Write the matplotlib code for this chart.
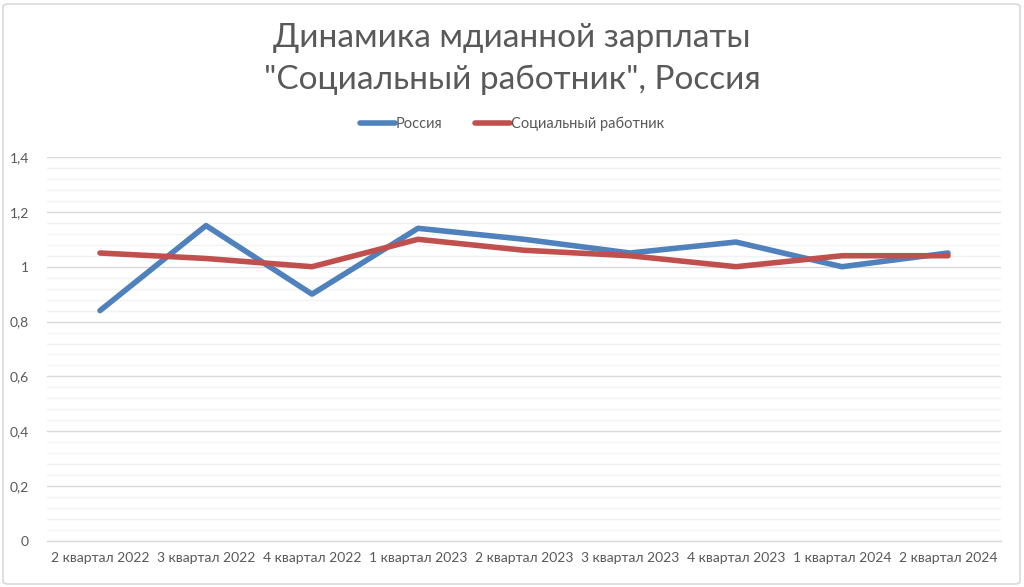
import matplotlib
matplotlib.use("Agg")
import matplotlib.pyplot as plt
from matplotlib.ticker import MultipleLocator, FuncFormatter
from matplotlib.patches import FancyBboxPatch

categories = ["2 квартал 2022", "3 квартал 2022", "4 квартал 2022", "1 квартал 2023",
              "2 квартал 2023", "3 квартал 2023", "4 квартал 2023", "1 квартал 2024",
              "2 квартал 2024"]
russia = [0.84, 1.15, 0.90, 1.14, 1.10, 1.05, 1.09, 1.00, 1.05]
social = [1.05, 1.03, 1.00, 1.10, 1.06, 1.04, 1.00, 1.04, 1.04]

plt.rcParams['font.family'] = ['Lato', 'DejaVu Sans']
gray = '#595959'

fig = plt.figure(figsize=(10.24, 5.87), dpi=100)
ax = fig.add_axes([47/1024, 1 - 541/587, (1001-47)/1024, (541-157)/587])

x = list(range(len(categories)))
ax.plot(x, russia, color='#4f81bd', lw=4, solid_capstyle='round', label='Россия', zorder=3)
ax.plot(x, social, color='#c0504d', lw=4, solid_capstyle='round', label='Социальный работник', zorder=3)

ax.set_xlim(-0.5, len(categories) - 0.5)
ax.set_ylim(0, 1.4)
ax.yaxis.set_major_locator(MultipleLocator(0.2))
ax.yaxis.set_minor_locator(MultipleLocator(0.04))
ax.yaxis.set_major_formatter(FuncFormatter(lambda v, p: ('%g' % round(v, 2)).replace('.', ',')))
ax.grid(axis='y', which='major', color='#d9d9d9', lw=1)
ax.grid(axis='y', which='minor', color='#f2f2f2', lw=1)
ax.set_axisbelow(True)
for s in ['top', 'right', 'left']:
    ax.spines[s].set_visible(False)
ax.spines['bottom'].set_color('#d9d9d9')
ax.spines['bottom'].set_linewidth(1)
ax.tick_params(axis='both', which='both', length=0, colors=gray, labelsize=10)
ax.tick_params(axis='y', pad=13)
ax.tick_params(axis='x', pad=8)
ax.set_xticks(x)
ax.set_xticklabels(categories)

fig.text(0.5, 1 - 38/587, 'Динамика мдианной зарплаты', ha='center', va='center', fontsize=24, color=gray)
fig.text(0.5, 1 - 80/587, '"Социальный работник", Россия', ha='center', va='center', fontsize=24, color=gray)

leg = fig.legend(loc='center', bbox_to_anchor=(0.5, 1 - 124/587), ncol=2, frameon=False,
                 fontsize=10.5, labelcolor=gray, handlelength=2.4, handletextpad=0.1, columnspacing=2.2)

border = FancyBboxPatch((3/1024, 3/587), 1 - 7/1024, 1 - 7/587, boxstyle='round,pad=0,rounding_size=0.005',
                        transform=fig.transFigure, fill=False, edgecolor='#d9d9d9', lw=1.2)
fig.patches.append(border)

fig.savefig('out.png', dpi=100)
